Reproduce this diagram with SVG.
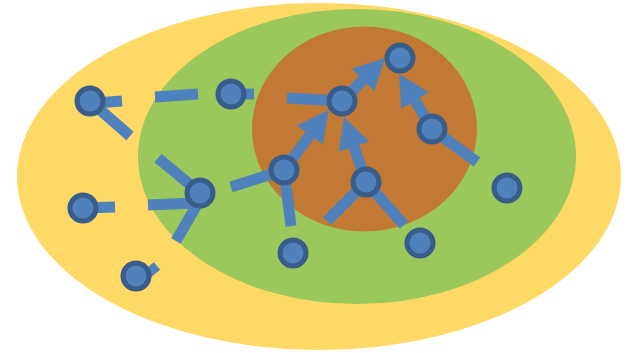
<svg xmlns="http://www.w3.org/2000/svg" width="631" height="353" viewBox="0 0 631 353">
<style>
.c{stroke:#4F81BD;stroke-width:11;fill:none;stroke-linecap:butt}
.a{stroke:#4F81BD;stroke-width:11;fill:none;marker-end:url(#ah)}
.n{fill:#4F81BD;stroke:#385D8A;stroke-width:5}
</style>
<defs>
<marker id="ah" markerUnits="userSpaceOnUse" markerWidth="34" markerHeight="34" refX="0" refY="16" orient="auto" overflow="visible">
<path d="M0,0 L31,16 L0,32 z" fill="#4F81BD"/>
</marker>
</defs>
<g id="regions">
<ellipse cx="319" cy="176.5" rx="302" ry="173.5" fill="#FFD966"/>
<ellipse cx="357" cy="156.5" rx="219" ry="147.5" fill="#9BC85A"/>
<ellipse cx="364.5" cy="129" rx="112.5" ry="102.5" fill="#C27933"/>
</g>
<g id="connectors">
<line class="c" x1="96" y1="103" x2="122" y2="101"/>
<line class="c" x1="90" y1="101" x2="130" y2="136"/>
<line class="c" x1="155" y1="97" x2="198" y2="94"/>
<line class="c" x1="231" y1="94" x2="254" y2="94"/>
<line class="c" x1="200" y1="193" x2="158" y2="158"/>
<line class="c" x1="148" y1="205" x2="196" y2="203"/>
<line class="c" x1="202" y1="196" x2="176" y2="241"/>
<line class="c" x1="284" y1="170" x2="231" y2="187"/>
<line class="c" x1="83" y1="208" x2="115" y2="207"/>
<line class="c" x1="140" y1="280" x2="157" y2="266" style="stroke-width:10"/>
<line class="c" x1="284" y1="170" x2="291" y2="226"/>
<line class="c" x1="287" y1="98" x2="342" y2="101"/>
<line class="c" x1="366" y1="182" x2="327" y2="221"/>
<line class="c" x1="366" y1="182" x2="404" y2="225"/>
<line class="c" x1="432" y1="129" x2="477" y2="162"/>
<line class="a" x1="284" y1="170" x2="310" y2="135"/>
<line class="a" x1="342" y1="101" x2="363" y2="80"/>
<line class="a" x1="366" y1="182" x2="354" y2="146.5"/>
<line class="a" x1="432" y1="129" x2="415" y2="100.5"/>
</g>
<g id="n1"><circle class="n" cx="90" cy="101" r="13"/></g>
<g id="n2"><circle class="n" cx="231" cy="94" r="13"/></g>
<g id="n3"><circle class="n" cx="200" cy="193" r="13"/></g>
<g id="n4"><circle class="n" cx="83" cy="208" r="13"/></g>
<g id="n5"><circle class="n" cx="136" cy="276" r="13"/></g>
<g id="n6"><circle class="n" cx="284" cy="170" r="13"/></g>
<g id="n7"><circle class="n" cx="342" cy="101" r="13"/></g>
<g id="n8"><circle class="n" cx="400" cy="58" r="13"/></g>
<g id="n9"><circle class="n" cx="432" cy="129" r="13"/></g>
<g id="n10"><circle class="n" cx="366" cy="182" r="13"/></g>
<g id="n11"><circle class="n" cx="293" cy="253" r="13"/></g>
<g id="n12"><circle class="n" cx="420" cy="243" r="13"/></g>
<g id="n13"><circle class="n" cx="507" cy="188" r="13"/></g>
</svg>
